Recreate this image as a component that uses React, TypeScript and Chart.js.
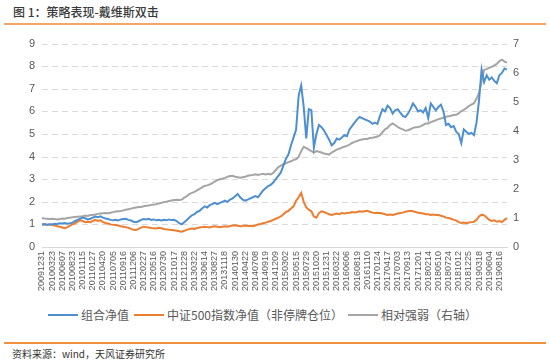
import React, { useEffect, useRef } from "react";
import { Chart, registerables } from "chart.js";

Chart.register(...registerables);

const tickDates = [
  "20091231", "20100323", "20100607", "20100823", "20101115", "20110127", "20110420", "20110705",
  "20110916", "20111206", "20120227", "20120516", "20120730", "20121017", "20121228", "20130322",
  "20130614", "20130827", "20131118", "20140130", "20140422", "20140708", "20140919", "20141209",
  "20150302", "20150515", "20150729", "20151020", "20151231", "20160322", "20160606", "20160819",
  "20161110", "20170124", "20170417", "20170703", "20170913", "20171201", "20180214", "20180510",
  "20180724", "20181012", "20181225", "20190318", "20190604", "20190816",
];

// 4 observations per labelled interval
const portfolioNav = [
  1.0, 1.02, 0.99, 1.01, 1.0, 1.03, 1.02, 1.05, 1.04, 1.06, 1.03, 1.05,
  1.08, 1.15, 1.2, 1.25, 1.3, 1.27, 1.22, 1.25, 1.3, 1.35, 1.32, 1.36,
  1.3, 1.26, 1.24, 1.2, 1.18, 1.2, 1.17, 1.22, 1.24, 1.25, 1.2, 1.17,
  1.12, 1.1, 1.14, 1.2, 1.24, 1.22, 1.25, 1.2, 1.22, 1.18, 1.2, 1.17,
  1.2, 1.18, 1.22, 1.19, 1.2, 1.15, 1.05, 1.0, 1.1, 1.2, 1.3, 1.4,
  1.45, 1.55, 1.6, 1.7, 1.8, 1.75, 1.85, 1.9, 1.95, 1.9, 1.95, 2.0,
  2.05, 2.0, 2.1, 2.15, 2.25, 2.35, 2.2, 2.1, 2.05, 2.1, 2.15, 2.2,
  2.25, 2.2, 2.35, 2.5, 2.6, 2.7, 2.75, 2.85, 3.0, 3.15, 3.3, 3.6,
  3.9, 4.1, 4.5, 4.85, 5.2, 6.7, 7.15, 6.2, 4.8, 6.1, 6.05, 4.4,
  5.0, 5.4, 5.3, 5.15, 4.95, 4.75, 4.5, 4.6, 4.8, 4.75, 4.85, 4.95,
  4.9, 5.2, 5.35, 5.5, 5.65, 5.75, 5.7, 5.65, 5.6, 5.55, 5.45, 5.5,
  5.45, 5.8, 6.1, 6.0, 6.25, 6.15, 5.9, 6.05, 6.1, 5.95, 5.8, 5.75,
  5.9, 6.1, 6.35, 6.2, 6.0, 6.05, 5.95, 6.15, 5.7, 6.35, 6.2, 6.05,
  6.2, 6.3, 6.0, 5.4, 5.45, 5.3, 5.35, 5.1, 5.0, 4.6, 5.2, 5.1,
  5.0, 5.05, 4.95, 5.5, 6.5, 7.85, 7.3, 7.6, 7.4, 7.5, 7.35, 7.25,
  7.6, 7.7, 7.9, 7.85,
];

const csi500Nav = [
  0.98, 1.0, 0.97, 1.0, 0.98, 0.95, 0.92, 0.9, 0.86, 0.83, 0.88, 0.95,
  1.0, 1.05, 1.12, 1.18, 1.15, 1.1, 1.12, 1.1, 1.15, 1.2, 1.15, 1.18,
  1.1, 1.06, 1.04, 1.0, 0.98, 0.97, 0.95, 0.92, 0.9, 0.88, 0.85, 0.8,
  0.76, 0.75, 0.8, 0.86, 0.9, 0.88, 0.86, 0.84, 0.83, 0.82, 0.85, 0.83,
  0.8, 0.78, 0.76, 0.75, 0.74, 0.72, 0.7, 0.68, 0.72, 0.76, 0.8, 0.82,
  0.8, 0.84, 0.86, 0.88, 0.9, 0.88, 0.86, 0.9, 0.92, 0.9, 0.88, 0.9,
  0.92, 0.9, 0.93, 0.95, 0.96, 0.94, 0.92, 0.93, 0.95, 0.93, 0.94, 0.92,
  0.95, 1.0, 1.02, 1.05, 1.08, 1.12, 1.15, 1.2, 1.25, 1.3, 1.35, 1.45,
  1.55, 1.6, 1.7, 1.8, 2.05, 2.2, 2.4, 2.0, 1.75, 1.65, 1.58, 1.35,
  1.3, 1.5, 1.58, 1.55, 1.5, 1.45, 1.42, 1.45, 1.48, 1.45, 1.5, 1.48,
  1.5, 1.52, 1.55, 1.53, 1.55, 1.58, 1.56, 1.58, 1.6, 1.56, 1.52, 1.5,
  1.52, 1.5, 1.48, 1.45, 1.42, 1.44, 1.42, 1.45, 1.48, 1.5, 1.52, 1.56,
  1.58, 1.6, 1.58, 1.55, 1.52, 1.5, 1.48, 1.45, 1.45, 1.42, 1.44, 1.42,
  1.42, 1.38, 1.35, 1.3, 1.28, 1.25, 1.2, 1.18, 1.1, 1.06, 1.08, 1.05,
  1.08, 1.1, 1.12, 1.2, 1.35, 1.43, 1.4, 1.3, 1.2, 1.15, 1.18, 1.12,
  1.15, 1.1, 1.2, 1.28,
];

const relativeStrength = [
  1.0, 0.98, 0.97, 0.96, 0.97, 0.96, 0.95, 0.96, 0.98, 0.97, 1.0, 1.01,
  1.02, 1.03, 1.04, 1.05, 1.06, 1.08, 1.07, 1.1, 1.1, 1.12, 1.14, 1.15,
  1.16, 1.17, 1.16, 1.18, 1.2, 1.22, 1.23, 1.24, 1.26, 1.28, 1.3, 1.32,
  1.34, 1.36, 1.38, 1.38, 1.4, 1.42, 1.43, 1.45, 1.46, 1.47, 1.5, 1.52,
  1.55, 1.56, 1.58, 1.6, 1.62, 1.63, 1.62, 1.63, 1.7, 1.75, 1.82, 1.86,
  1.9, 1.95, 2.0, 2.05, 2.1, 2.12, 2.15, 2.2, 2.25, 2.3, 2.33, 2.35,
  2.38, 2.42, 2.44, 2.45, 2.42, 2.4, 2.38, 2.4, 2.42, 2.45, 2.47, 2.48,
  2.5, 2.48, 2.5, 2.52, 2.5, 2.52, 2.5, 2.55, 2.65, 2.75, 2.8, 2.85,
  2.88, 2.92, 2.95, 3.0, 3.02, 3.1, 3.3, 3.45, 3.4, 3.35, 3.3, 3.25,
  3.3, 3.28, 3.25, 3.22, 3.2, 3.18, 3.25, 3.3, 3.35, 3.38, 3.42, 3.45,
  3.48, 3.52, 3.58, 3.62, 3.65, 3.68, 3.7, 3.72, 3.72, 3.75, 3.76, 3.78,
  3.8, 3.85, 3.95, 4.05, 4.1, 4.2, 4.25, 4.2, 4.13, 4.08, 4.05, 4.0,
  4.02, 4.05, 4.1, 4.12, 4.13, 4.15, 4.2, 4.25, 4.25, 4.3, 4.33, 4.36,
  4.4, 4.42, 4.45, 4.48, 4.5, 4.52, 4.54, 4.55, 4.6, 4.68, 4.72, 4.78,
  4.85, 4.9, 4.95, 5.1, 5.3, 5.7, 6.1, 6.12, 6.17, 6.2, 6.25, 6.3,
  6.4, 6.45, 6.38, 6.35,
];

const seriesNames = ["组合净值", "中证500指数净值（非停牌仓位）", "相对强弱（右轴）"];
const seriesColors = ["#4E8FD0", "#ED7D31", "#A5A5A5"];
const leftTicks = { min: 0, max: 9, step: 1 };
const rightTicks = { min: 0, max: 7, step: 1 };

const FONT = "'Liberation Sans', 'Noto Sans CJK SC', sans-serif";
const CJK = "'Noto Sans CJK SC', 'Liberation Sans', sans-serif";

const dashedGrid = {
  id: "dashedGrid",
  beforeDatasetsDraw(chart: any) {
    const { ctx, chartArea, scales } = chart;
    const y = scales.y;
    ctx.save();
    ctx.strokeStyle = "#D9D9D9";
    ctx.lineWidth = 1;
    ctx.setLineDash([6, 4]);
    y.ticks.forEach((t: any) => {
      if (t.value === 0) return;
      const py = Math.round(y.getPixelForValue(t.value)) + 0.5;
      ctx.beginPath();
      ctx.moveTo(chartArea.left, py);
      ctx.lineTo(chartArea.right, py);
      ctx.stroke();
    });
    ctx.restore();
  },
};

export default function App() {
  const ref = useRef<HTMLCanvasElement | null>(null);

  useEffect(() => {
    if (!ref.current) return;
    const labels = portfolioNav.map((_, i) =>
      i % 4 === 0 && i / 4 < tickDates.length ? tickDates[i / 4] : ""
    );
    const series = [portfolioNav, csi500Nav, relativeStrength];
    const axes = ["y", "y", "y1"];
    const chart = new Chart(ref.current, {
      type: "line",
      data: {
        labels,
        datasets: series.map((d, i) => ({
          label: seriesNames[i],
          data: d,
          borderColor: seriesColors[i],
          backgroundColor: seriesColors[i],
          borderWidth: 2,
          pointRadius: 0,
          tension: 0,
          yAxisID: axes[i],
        })),
      },
      plugins: [dashedGrid],
      options: {
        animation: false,
        responsive: false,
        maintainAspectRatio: false,
        layout: { padding: { left: 0, right: 0, top: 13, bottom: 0 } },
        plugins: {
          legend: { display: false },
          tooltip: { enabled: false },
        },
        scales: {
          x: {
            type: "category",
            offset: false,
            grid: { display: false, drawTicks: false },
            border: { display: true, color: "#D9D9D9", width: 1 },
            afterFit: (s: any) => {
              s.height = 53;
            },
            ticks: {
              autoSkip: false,
              minRotation: 90,
              maxRotation: 90,
              padding: 4,
              color: "#595959",
              font: { family: FONT, size: 9 },
            },
          },
          y: {
            position: "left",
            min: leftTicks.min,
            max: leftTicks.max,
            afterFit: (s: any) => {
              s.width = 42;
            },
            ticks: {
              stepSize: leftTicks.step,
              padding: 7,
              color: "#595959",
              font: { family: FONT, size: 11 },
            },
            grid: { display: false, drawTicks: false },
            border: { display: false },
          },
          y1: {
            position: "right",
            min: rightTicks.min,
            max: rightTicks.max,
            afterFit: (s: any) => {
              s.width = 43;
            },
            ticks: {
              stepSize: rightTicks.step,
              padding: 6,
              color: "#595959",
              font: { family: FONT, size: 11 },
            },
            grid: { display: false, drawTicks: false },
            border: { display: false },
          },
        },
      },
    });
    return () => chart.destroy();
  }, []);

  return (
    <div
      style={{
        position: "fixed",
        left: 0,
        top: 0,
        width: 550,
        height: 363,
        background: "#fff",
        fontFamily: CJK,
        overflow: "hidden",
      }}
    >
      <div
        style={{
          position: "absolute",
          left: 13,
          top: 4,
          fontSize: 12,
          color: "#3A3A3A",
          fontWeight: 500,
          lineHeight: "16px",
        }}
      >
        图 1：策略表现-戴维斯双击
      </div>
      <div
        style={{
          position: "absolute",
          left: 4,
          top: 23,
          width: 542,
          height: 2,
          background: "#F2A66A",
        }}
      />
      <canvas
        ref={ref}
        width={550}
        height={270}
        style={{ position: "absolute", left: 0, top: 30, width: 550, height: 270 }}
      />
      <div
        style={{
          position: "absolute",
          left: 48,
          top: 307,
          height: 16,
          display: "flex",
          alignItems: "center",
          fontSize: 12,
          lineHeight: "16px",
          color: "#595959",
          whiteSpace: "nowrap",
        }}
      >
        {seriesNames.map((n, i) => (
          <div key={n} style={{ display: "flex", alignItems: "center", marginRight: 5 }}>
            <div style={{ width: 30, height: 2, background: seriesColors[i], marginRight: 3 }} />
            <span>{n}</span>
          </div>
        ))}
      </div>
      <div
        style={{
          position: "absolute",
          left: 4,
          top: 342,
          width: 542,
          height: 2,
          background: "#F0913F",
        }}
      />
      <div
        style={{
          position: "absolute",
          left: 12,
          top: 347,
          fontSize: 10,
          color: "#333",
          lineHeight: "14px",
        }}
      >
        资料来源：wind，天风证券研究所
      </div>
    </div>
  );
}
